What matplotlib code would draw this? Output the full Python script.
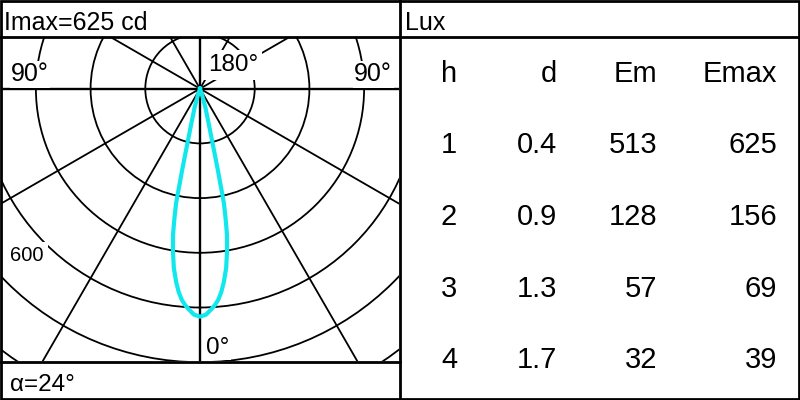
import matplotlib.pyplot as plt
from matplotlib.patches import Circle, Rectangle
import numpy as np

plt.rcParams['font.family'] = ['Liberation Sans', 'DejaVu Sans']

# light distribution (half curve, symmetric), angle from nadir in degrees, cd
angles = [0, 1.5, 3, 4, 5, 6, 7, 8.3, 9.5, 10.5, 11.2, 11.8, 12.4, 13.7, 16, 18, 20]
intensity = [625, 620, 605, 594, 580, 560, 535, 497, 450, 405, 360, 320, 225, 110, 54, 20, 0]
rings = [150, 300, 450, 600, 750, 900]
spokes = list(range(0, 360, 30))

# illuminance table
h_vals = ['1', '2', '3', '4']
d_vals = ['0.4', '0.9', '1.3', '1.7']
em_vals = ['513', '128', '57', '32']
emax_vals = ['625', '156', '69', '39']
headers = ['h', 'd', 'Em', 'Emax']

k = 150 / 54.7          # cd per pixel
cx, cy = 200, 88.7      # pole position in pixels

fig = plt.figure(figsize=(8, 4), dpi=100)

# polar panel, data in cd
ax = fig.add_axes([2/800, 39/400, 397/800, 323/400])
ax.set_xlim((2 - cx) * k, (399 - cx) * k)
ax.set_ylim((cy - 361) * k, (cy - 38) * k)
ax.axis('off')

for r in rings:
    ax.add_patch(Circle((0, 0), r, fill=False, lw=1.3, color='black'))
for a in spokes:
    t = np.radians(a)
    lw = 1.7 if a % 90 == 0 else 1.3
    ax.plot([0, 3000 * np.sin(t)], [0, -3000 * np.cos(t)], color='black', lw=lw)

th = np.radians(np.concatenate([-np.array(angles[::-1]), np.array(angles[1:])]))
ii = np.concatenate([np.array(intensity[::-1]), np.array(intensity[1:])])
ax.plot(ii * np.sin(th), -ii * np.cos(th), color='#10e8ee', lw=3, zorder=5,
        solid_joinstyle='round')

# overlay in pixel coordinates: frame, labels, table
ov = fig.add_axes([0, 0, 1, 1])
ov.patch.set_alpha(0)
ov.set_xlim(0, 800)
ov.set_ylim(400, 0)
ov.axis('off')

ov.add_patch(Rectangle((1, 1), 798, 398, fill=False, lw=2, color='black'))
ov.plot([400, 400], [0, 400], color='black', lw=2)
ov.plot([0, 800], [37, 37], color='black', lw=2)
ov.plot([0, 400], [362, 362], color='black', lw=2)

box = dict(facecolor='white', edgecolor='none', pad=1)
ov.text(4, 30, 'Imax=625 cd', fontsize=18, va='baseline')
ov.text(405, 30, 'Lux', fontsize=18, va='baseline')
ov.text(11, 81, '90°', fontsize=18, va='baseline', bbox=box)
ov.text(392, 81, '90°', fontsize=18, ha='right', va='baseline', bbox=box)
ov.text(208, 71, '180°', fontsize=17.5, va='baseline',
        bbox=dict(facecolor='white', edgecolor='none', pad=3))
ov.text(10, 261, '600', fontsize=14.5, va='baseline',
        bbox=dict(facecolor='white', edgecolor='none', pad=3))
ov.text(206, 354, '0°', fontsize=17.5, va='baseline', bbox=box)
ov.text(10, 391, 'α=24°', fontsize=17.5, va='baseline')

col_x = [457, 557, 657, 777]
row_y = [82, 153, 225, 297, 368]
for x, lab in zip(col_x, headers):
    ov.text(x, row_y[0], lab, fontsize=21, ha='right', va='baseline')
for j, col in enumerate([h_vals, d_vals, em_vals, emax_vals]):
    for i, v in enumerate(col):
        ov.text(col_x[j], row_y[i + 1], v, fontsize=21, ha='right', va='baseline')

fig.savefig('out.png', dpi=100)
